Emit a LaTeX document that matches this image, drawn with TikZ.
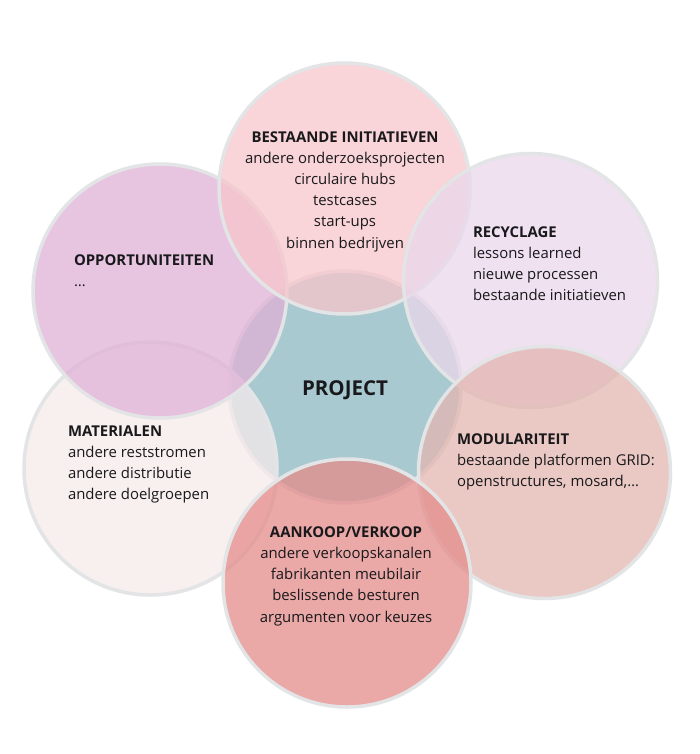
\documentclass[tikz,border=0pt]{standalone}
\usepackage{fontspec}
\setmainfont{Open Sans}
\definecolor{cCenter}{RGB}{169,201,209}
\definecolor{cTop}{RGB}{247,198,203}
\definecolor{cLT}{RGB}{224,178,215}
\definecolor{cRT}{RGB}{234,215,235}
\definecolor{cLB}{RGB}{246,234,234}
\definecolor{cRB}{RGB}{227,182,176}
\definecolor{cBot}{RGB}{228,140,138}
\definecolor{ring}{RGB}{226,228,230}
\definecolor{ink}{RGB}{25,25,28}
\begin{document}
\begin{tikzpicture}[x=1pt,y=-1pt,
  bub/.style={circle, inner sep=0pt, outer sep=0pt, draw=ring, line width=3.5pt, fill opacity=.75},
  txt/.style={inner sep=0pt, outer sep=0pt, text=ink, font=\fontsize{14.9}{21.2}\selectfont},
  lefttxt/.style={txt, anchor=north west, align=left},
  midtxt/.style={txt, anchor=north, align=center}]
\useasboundingbox (0,0) rectangle (700,754);
\fill[white] (0,0) rectangle (700,754);
% centre
\node[bub, fill=cCenter, fill opacity=1, minimum size=232pt] (center) at (345,387) {};
% outer circles
\node[bub, fill=cLB,  minimum size=253pt] (lb)  at (150.5,468.5) {};
\node[bub, fill=cLT,  minimum size=254pt] (lt)  at (160,291) {};
\node[bub, fill=cTop, minimum size=251pt] (top) at (344.5,188.5) {};
\node[bub, fill=cRT,  minimum size=254pt] (rt)  at (530.5,280.5) {};
\node[bub, fill=cRB,  minimum size=252pt] (rb)  at (544.5,472.5) {};
\node[bub, fill=cBot, minimum size=248pt] (bot) at (347,583) {};
% texts
\node[midtxt] (tTop) at (345,131.4) {\textbf{BESTAANDE INITIATIEVEN}\\andere onderzoeksprojecten\\circulaire hubs\\testcases\\start-ups\\binnen bedrijven};
\node[lefttxt] (tLT) at (74,254.4) {\textbf{OPPORTUNITEITEN}\\\dots};
\node[lefttxt] (tRT) at (473,226.4) {\textbf{RECYCLAGE}\\lessons learned\\nieuwe processen\\bestaande initiatieven};
\node[lefttxt] (tLB) at (68,425.4) {\textbf{MATERIALEN}\\andere reststromen\\andere distributie\\andere doelgroepen};
\node[lefttxt] (tRB) at (457,433.4) {\textbf{MODULARITEIT}\\bestaande platformen GRID:\\openstructures, mosard,\dots};
\node[midtxt] (tBot) at (346,526.4) {\textbf{AANKOOP/VERKOOP}\\andere verkoopskanalen\\fabrikanten meubilair\\beslissende besturen\\argumenten voor keuzes};
\node[midtxt, font=\fontsize{20.5}{24}\selectfont\bfseries] (tC) at (345,380.2) {PROJECT};
\end{tikzpicture}
\end{document}
